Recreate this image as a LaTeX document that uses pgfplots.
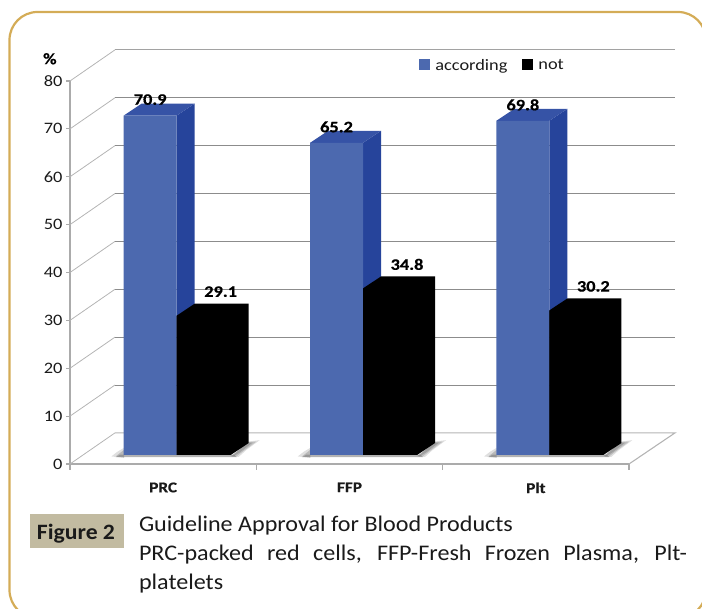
\documentclass[border=0pt]{standalone}
\usepackage{pgfplots}
\pgfplotsset{compat=1.18}
\usepackage{fontspec}
\setmainfont[FakeStretch=1.08]{Carlito}
\newfontfamily\chartfont[FakeStretch=1.15,BoldFeatures={FakeStretch=1.15,FakeBold=0.5}]{Carlito}
\definecolor{frameg}{HTML}{D4AC57}
\definecolor{boxc}{HTML}{C2BBA1}
\definecolor{blueF}{HTML}{4C69AF}
\definecolor{blueS}{HTML}{26449B}
\definecolor{blueT}{HTML}{3653A6}
\definecolor{gridd}{HTML}{8C8C8C}
\definecolor{gridl}{HTML}{B4B4B4}
\definecolor{axisg}{HTML}{ABABAB}
\definecolor{txt}{HTML}{1A1A1A}
\pgfplotstableread{
x according not
0.5 70.9 29.1
1.5 65.2 34.8
2.5 69.8 30.2
}\datatable
\begin{document}
\begin{tikzpicture}[x=1bp,y=1bp]
\path[use as bounding box] (0,0) rectangle (702,609);
\begin{scope}
\clip (0,0) rectangle (702,609);
\draw[frameg,line width=2.2bp,rounded corners=28bp] (9.5,-9) rectangle (706,597);
\end{scope}
% frame axis: walls, floor, ticks, labels
\begin{axis}[
  at={(70bp,145bp)},anchor=south west,scale only axis,
  width=559bp,height=383bp,
  xmin=0,xmax=3,ymin=0,ymax=80,clip=false,
  axis x line*=bottom,axis y line*=left,
  axis line style={axisg,line width=1.4bp,-},
  xtick={0.5,1.5,2.5},xticklabels={PRC,FFP,Plt},
  minor xtick={0,1,2,3},
  ytick={0,10,...,80},
  tick style={axisg,line width=1.1bp},
  major x tick style={draw=none},
  tick align=outside,major tick length=4bp,minor tick length=6bp,
  /pgf/number format/assume math mode=true,
  ticklabel style={text=txt},
  yticklabel style={font=\chartfont\fontsize{16}{16}\selectfont,xshift=0bp},
  xticklabel style={font=\chartfont\bfseries\fontsize{15}{15}\selectfont,yshift=-11bp},
  ylabel={\%},
  y label style={at={(axis description cs:-0.036,1.058)},rotate=-90,anchor=center,font=\chartfont\bfseries\fontsize{16}{16}\selectfont},
]
\addplot[gridl,line width=.8bp,forget plot] coordinates {(0,0) (0.2415,6.5)};
\addplot[gridl,line width=1.1bp,forget plot] coordinates {(0.2415,6.5) (3.2469,6.5) (3,0)};
\addplot[gridl,line width=.8bp,forget plot] coordinates {(0,10) (0.2415,16.5)};
\addplot[gridl,line width=.8bp,forget plot] coordinates {(0,20) (0.2415,26.5)};
\addplot[gridl,line width=.8bp,forget plot] coordinates {(0,30) (0.2415,36.5)};
\addplot[gridl,line width=.8bp,forget plot] coordinates {(0,40) (0.2415,46.5)};
\addplot[gridl,line width=.8bp,forget plot] coordinates {(0,50) (0.2415,56.5)};
\addplot[gridl,line width=.8bp,forget plot] coordinates {(0,60) (0.2415,66.5)};
\addplot[gridl,line width=.8bp,forget plot] coordinates {(0,70) (0.2415,76.5)};
\addplot[gridl,line width=.8bp,forget plot] coordinates {(0,80) (0.2415,86.5)};
\addplot[gridd,line width=.9bp,forget plot] coordinates {(0.2415,16.5) (3.2469,16.5)};
\addplot[gridd,line width=.9bp,forget plot] coordinates {(0.2415,26.5) (3.2469,26.5)};
\addplot[gridd,line width=.9bp,forget plot] coordinates {(0.2415,36.5) (3.2469,36.5)};
\addplot[gridd,line width=.9bp,forget plot] coordinates {(0.2415,46.5) (3.2469,46.5)};
\addplot[gridd,line width=.9bp,forget plot] coordinates {(0.2415,56.5) (3.2469,56.5)};
\addplot[gridd,line width=.9bp,forget plot] coordinates {(0.2415,66.5) (3.2469,66.5)};
\addplot[gridd,line width=.9bp,forget plot] coordinates {(0.2415,76.5) (3.2469,76.5)};
\addplot[gridl!90!black,line width=1.1bp,forget plot] coordinates {(0.2415,86.5) (3.2469,86.5)};
\end{axis}
% bars: same scales, base lifted onto the floor
\begin{axis}[
  at={(70bp,154bp)},anchor=south west,scale only axis,
  width=559bp,height=383bp,
  xmin=0,xmax=3,ymin=0,ymax=80,clip=false,
  axis lines=none,
  /pgf/number format/assume math mode=true,
  /pgf/number format/fixed,/pgf/number format/precision=1,
  /pgf/number format/fixed zerofill,
  legend style={draw=none,fill=none,at={(axis cs:1.875,83.1)},anchor=north west,
    font=\chartfont\fontsize{16}{16}\selectfont,text=txt,
    inner sep=0pt,outer sep=0pt,
    /tikz/every odd column/.append style={column sep=3bp},
    /tikz/every even column/.append style={column sep=13bp}},
  legend columns=2,
  legend image code/.code={\fill[#1] (0bp,-4.5bp) rectangle (11bp,6bp);},
  nodes near coords,
  every node near coord/.append style={font=\chartfont\bfseries\fontsize{16}{16}\selectfont,text=black},
]
% floor shadows (soft, layered)
\pgfplotsinvokeforeach{0,1,2}{
\addplot[fill=gray,draw=none,fill opacity=.25,forget plot,nodes near coords={}] coordinates {(#1+0.869,-0.4) (#1+0.955,2.8) (#1+1.018,3.1) (#1+0.945,1.0) (#1+0.905,-0.4)} -- cycle;
\addplot[fill=gray,draw=none,fill opacity=.35,forget plot,nodes near coords={}] coordinates {(#1+0.865,-0.3) (#1+0.955,2.7) (#1+1.0,2.8) (#1+0.93,0.8) (#1+0.893,-0.3)} -- cycle;
\addplot[fill=gray,draw=none,fill opacity=.5,forget plot,nodes near coords={}] coordinates {(#1+0.865,-0.2) (#1+0.955,2.6) (#1+0.98,2.6) (#1+0.91,0.5) (#1+0.88,-0.2)} -- cycle;
\addplot[fill=gray,draw=none,fill opacity=.25,forget plot,nodes near coords={}] coordinates {(#1+0.290,-0.6) (#1+0.290,1.5) (#1+0.255,0.7) (#1+0.222,-0.3)} -- cycle;
\addplot[fill=gray,draw=none,fill opacity=.4,forget plot,nodes near coords={}] coordinates {(#1+0.290,-0.5) (#1+0.290,1.1) (#1+0.268,0.4) (#1+0.245,-0.3)} -- cycle;
\addplot[fill=gray,draw=none,fill opacity=.6,forget plot,nodes near coords={}] coordinates {(#1+0.245,-0.45) (#1+0.895,-0.45) (#1+0.880,0.1) (#1+0.270,0.1)} -- cycle;
}
% side and top faces
\addplot[fill=blueS,draw=none,forget plot,nodes near coords={}] coordinates {(0.5725,0) (0.6691,2.5) (0.6691,73.4) (0.5725,70.9)} -- cycle;
\addplot[fill=blueT,draw=none,forget plot,nodes near coords={}] coordinates {(0.2881,70.9) (0.5725,70.9) (0.6691,73.4) (0.3847,73.4)} -- cycle;
\addplot[fill=blueS,draw=none,forget plot,nodes near coords={}] coordinates {(1.5725,0) (1.6691,2.5) (1.6691,67.7) (1.5725,65.2)} -- cycle;
\addplot[fill=blueT,draw=none,forget plot,nodes near coords={}] coordinates {(1.2881,65.2) (1.5725,65.2) (1.6691,67.7) (1.3847,67.7)} -- cycle;
\addplot[fill=blueS,draw=none,forget plot,nodes near coords={}] coordinates {(2.5725,0) (2.6691,2.5) (2.6691,72.3) (2.5725,69.8)} -- cycle;
\addplot[fill=blueT,draw=none,forget plot,nodes near coords={}] coordinates {(2.2881,69.8) (2.5725,69.8) (2.6691,72.3) (2.3847,72.3)} -- cycle;
\addplot[fill=black,draw=none,forget plot,nodes near coords={}] coordinates {(0.8623,0) (0.9589,2.5) (0.9589,31.6) (0.6691,31.6) (0.5725,29.1) (0.5725,0)} -- cycle;
\addplot[fill=black,draw=none,forget plot,nodes near coords={}] coordinates {(1.8623,0) (1.9589,2.5) (1.9589,37.3) (1.6691,37.3) (1.5725,34.8) (1.5725,0)} -- cycle;
\addplot[fill=black,draw=none,forget plot,nodes near coords={}] coordinates {(2.8623,0) (2.9589,2.5) (2.9589,32.7) (2.6691,32.7) (2.5725,30.2) (2.5725,0)} -- cycle;
% front faces (the data)
\addplot[ybar,bar width=53bp,bar shift=-13bp,fill=blueF,draw=none,
  every node near coord/.append style={anchor=center,xshift=-13bp,yshift=16bp}]
  table[x=x,y=according] {\datatable};
\addlegendentry{according}
\addplot[ybar,bar width=54bp,bar shift=40.5bp,fill=black,draw=none,
  every node near coord/.append style={anchor=center,xshift=57.5bp,yshift=24bp}]
  table[x=x,y=not] {\datatable};
\addlegendentry{not}
\end{axis}
% caption
\fill[boxc] (30,61) rectangle (124,95);
\node[anchor=base,font=\bfseries\fontsize{22}{22}\selectfont,text=txt] at (76,69) {Figure 2};
\begin{scope}[every node/.style={anchor=base west,inner sep=0pt,outer sep=0pt,text=txt,font=\fontsize{22.4}{22.4}\selectfont}]
\node at (139,77.5) {Guideline Approval for Blood Products};
\node at (139,48) {\makebox[548bp][s]{PRC-packed red cells, FFP-Fresh Frozen Plasma, Plt-}};
\node at (139,19) {platelets};
\end{scope}
\end{tikzpicture}
\end{document}
